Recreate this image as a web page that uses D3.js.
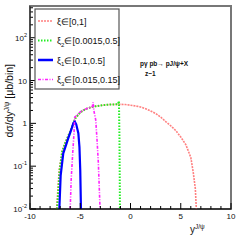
<!DOCTYPE html>
<html>
<head>
<script src="https://d3js.org/d3.v7.min.js"></script>
<style>
  body { margin: 0; background: #fff; }
  svg text { font-family: "Liberation Sans", Arial, sans-serif; fill: #111; }
</style>
</head>
<body>
<script>
// xi in [0,1]
var redX = [-7.35, -7.1, -6.8, -6.5, -6.0, -5.5, -5.0, -4.5, -4.0, -3.5, -3.0, -2.5, -2.0, -1.5, -1.0, -0.5, 0, 0.5, 1.0, 1.5, 2.0, 2.5, 3.0, 3.5, 4.0, 4.5, 5.0, 5.5, 6.0, 6.25, 6.45, 6.55];
var redY = [0.01, 0.08, 0.22, 0.35, 0.65, 1.3, 1.8, 2.15, 2.35, 2.5, 2.6, 2.7, 2.75, 2.78, 2.78, 2.75, 2.65, 2.55, 2.4, 2.2, 1.95, 1.7, 1.4, 1.1, 0.88, 0.68, 0.48, 0.32, 0.16, 0.07, 0.03, 0.01];
// xi2 in [0.0015,0.5]
var greenX = [-7.3, -7.05, -6.8, -6.5, -6.0, -5.5, -5.0, -4.5, -4.0, -3.5, -3.0, -2.5, -2.0, -1.5, -1.25, -1.15, -1.1, -1.07, -1.05];
var greenY = [0.01, 0.08, 0.22, 0.35, 0.65, 1.3, 1.8, 2.15, 2.35, 2.5, 2.6, 2.7, 2.75, 2.78, 2.8, 3.3, 0.5, 0.05, 0.01];
// xi1 in [0.1,0.5]
var blueX = [-7.08, -6.95, -6.69, -6.4, -6.19, -5.9, -5.69, -5.55, -5.4, -5.19, -5.08, -5.0, -4.93];
var blueY = [0.01, 0.06, 0.2, 0.32, 0.45, 0.7, 1.0, 1.1, 0.95, 0.59, 0.28, 0.08, 0.01];
// xi3 in [0.015,0.15]
var magX = [-6.0, -5.9, -5.75, -5.62, -5.55, -5.0, -4.5, -4.0, -3.8, -3.72, -3.65, -3.46, -3.33, -3.2, -3.03];
var magY = [0.01, 0.05, 0.2, 0.6, 1.4, 1.85, 2.15, 2.35, 2.45, 3.1, 2.0, 1.2, 0.41, 0.12, 0.01];

var xTicks = [-10, -5, 0, 5, 10];
var yTicks = [0.01, 0.1, 1, 10, 100];
var yTickLabels = [["10", "-2"], ["10", "-1"], ["1", ""], ["10", ""], ["10", "2"]];

var W = 240, H = 240;
var pL = 30, pR = 231, pT = 6, pB = 209;

var svg = d3.select("body").append("svg")
    .attr("width", W)
    .attr("height", H);

var x = d3.scaleLinear().domain([-10, 10]).range([pL, pR]);
var y = d3.scaleLog().domain([0.01, 550]).range([pB, pT]);

// frame
svg.append("rect")
    .attr("x", pL).attr("y", pT)
    .attr("width", pR - pL).attr("height", pB - pT)
    .attr("fill", "none").attr("stroke", "#777").attr("stroke-width", 2);

svg.append("clipPath").attr("id", "clip")
    .append("rect").attr("x", pL).attr("y", pT)
    .attr("width", pR - pL).attr("height", pB - pT);

function series(xs, ys) {
    return xs.map(function (d, i) { return [d, ys[i]]; });
}

var line = d3.line()
    .x(function (d) { return x(d[0]); })
    .y(function (d) { return y(d[1]); });

var curves = [
    { data: series(redX, redY), color: "#ff8080", width: 1.6, dash: "2,1" },
    { data: series(greenX, greenY), color: "#22ee22", width: 2, dash: "1.5,1.5" },
    { data: series(blueX, blueY), color: "#0000ff", width: 2.2, dash: null },
    { data: series(magX, magY), color: "#ff22ff", width: 1.6, dash: "3,1.5,1,1.5" }
];

var plot = svg.append("g").attr("clip-path", "url(#clip)");
curves.forEach(function (c) {
    plot.append("path")
        .datum(c.data)
        .attr("d", line)
        .attr("fill", "none")
        .attr("stroke", c.color)
        .attr("stroke-width", c.width)
        .attr("stroke-dasharray", c.dash);
});

// x axis ticks (inward)
var xMinor = d3.range(-10, 11, 1);
svg.selectAll(".xt").data(xMinor).enter().append("line")
    .attr("x1", function (d) { return x(d); })
    .attr("x2", function (d) { return x(d); })
    .attr("y1", pB)
    .attr("y2", function (d) { return d % 5 === 0 ? pB - 6 : pB - 3; })
    .attr("stroke", "#000").attr("stroke-width", 1);

svg.selectAll(".xl").data(xTicks).enter().append("text")
    .attr("x", function (d) { return x(d); })
    .attr("y", 219)
    .attr("text-anchor", "middle")
    .attr("font-size", 8)
    .text(function (d) { return d; });

// y axis ticks (inward)
var yMinor = [];
for (var e = -2; e <= 2; e++) {
    for (var m = 1; m <= 9; m++) {
        var v = m * Math.pow(10, e);
        if (v <= 550) yMinor.push({ v: v, major: m === 1 });
    }
}
svg.selectAll(".yt").data(yMinor).enter().append("line")
    .attr("x1", pL)
    .attr("x2", function (d) { return d.major ? pL + 6 : pL + 3; })
    .attr("y1", function (d) { return y(d.v); })
    .attr("y2", function (d) { return y(d.v); })
    .attr("stroke", "#000").attr("stroke-width", 1);

var yl = svg.selectAll(".yl").data(yTicks).enter().append("text")
    .attr("x", 27)
    .attr("y", function (d) { return y(d) + 3; })
    .attr("text-anchor", "end")
    .attr("font-size", 8);
yl.each(function (d, i) {
    var t = d3.select(this);
    t.append("tspan").text(yTickLabels[i][0]);
    if (yTickLabels[i][1]) {
        t.append("tspan").attr("dy", -4).attr("font-size", 5.5).text(yTickLabels[i][1]);
    }
});

// axis lines
svg.append("line").attr("x1", pL).attr("x2", pR).attr("y1", pB).attr("y2", pB)
    .attr("stroke", "#000").attr("stroke-width", 1.2);
svg.append("line").attr("x1", pL).attr("x2", pL).attr("y1", pT).attr("y2", pB)
    .attr("stroke", "#333").attr("stroke-width", 1.2);

// axis titles
var yt = svg.append("text")
    .attr("transform", "translate(13,64) rotate(-90)")
    .attr("text-anchor", "end")
    .attr("font-size", 10.5);
yt.append("tspan").text("dσ/dy");
yt.append("tspan").attr("dy", -4).attr("font-size", 6.5).text("J/ψ");
yt.append("tspan").attr("dy", 4).text(" [μb/bin]");

var xt = svg.append("text")
    .attr("x", 190).attr("y", 233)
    .attr("font-size", 10);
xt.append("tspan").text("y");
xt.append("tspan").attr("dy", -4).attr("font-size", 6.5).text("J/ψ");

// legend
var legend = svg.append("g");
legend.append("rect")
    .attr("x", 35).attr("y", 9).attr("width", 84).attr("height", 80)
    .attr("fill", "#fff").attr("stroke", "#555").attr("stroke-width", 1.2);

var legendLabels = [["ξ", "", "∈[0,1]"], ["ξ", "2", "∈[0.0015,0.5]"], ["ξ", "1", "∈[0.1,0.5]"], ["ξ", "3", "∈[0.015,0.15]"]];
var legendY = [21, 40.5, 60, 79.5];
legendLabels.forEach(function (lab, i) {
    var c = curves[i];
    legend.append("line")
        .attr("x1", 38).attr("x2", 53)
        .attr("y1", legendY[i]).attr("y2", legendY[i])
        .attr("stroke", c.color)
        .attr("stroke-width", i === 2 ? 2.5 : c.width)
        .attr("stroke-dasharray", c.dash);
    var t = legend.append("text")
        .attr("x", 57).attr("y", legendY[i] + 3.5)
        .attr("font-size", 9);
    t.append("tspan").text(lab[0]);
    if (lab[1]) {
        t.append("tspan").attr("dy", 2.5).attr("font-size", 6).text(lab[1]);
        t.append("tspan").attr("dy", -2.5).text(lab[2]);
    } else {
        t.append("tspan").text(lab[2]);
    }
});

// annotation
svg.append("text").attr("x", 140).attr("y", 66).attr("font-size", 6.5).attr("font-weight", "bold")
    .text("pγ pb→ pJ/ψ+X");
svg.append("text").attr("x", 145).attr("y", 76).attr("font-size", 6.5).attr("font-weight", "bold")
    .text("z~1");
</script>
</body>
</html>
